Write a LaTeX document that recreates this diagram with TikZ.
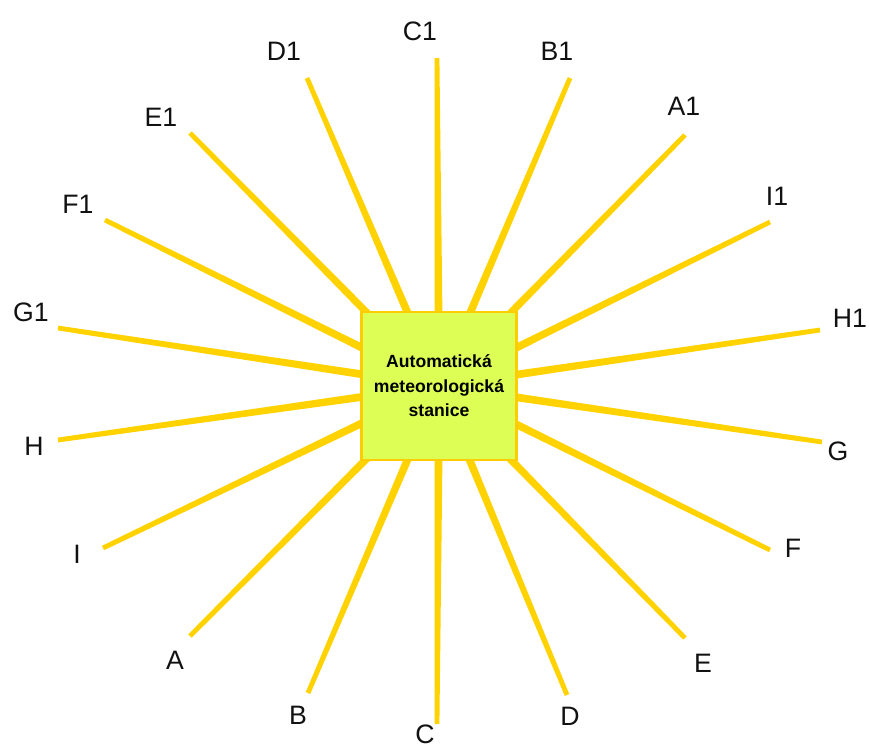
\documentclass[tikz,border=0pt]{standalone}
\usepackage{fontspec}
\setmainfont{Liberation Sans}
\usetikzlibrary{calc}
\definecolor{ray}{HTML}{FFD200}
\definecolor{boxfill}{HTML}{DDFF55}
\definecolor{boxline}{HTML}{FFCC00}
\definecolor{txt}{HTML}{111111}
\begin{document}
\begin{tikzpicture}[x=0.75pt,y=-0.75pt,
  lbl/.style={font=\fontsize{20}{20}\selectfont, text=txt, inner sep=0pt, anchor=center},
  centerbox/.style={draw=boxline, line width=2.2pt, fill=boxfill, minimum width=116pt, minimum height=111pt,
    inner sep=0pt, align=center, font=\bfseries\fontsize{13.2}{18.4}\selectfont, text=black},
  raystyle/.style={fill=ray}]
\useasboundingbox (0,0) rectangle (870,744);
% outer ends
\coordinate (c1) at (437,58);
\coordinate (b1) at (570,78);
\coordinate (d1) at (307,78);
\coordinate (a1) at (685,135);
\coordinate (e1) at (190,133);
\coordinate (i1) at (770,222);
\coordinate (f1) at (105,220);
\coordinate (h1) at (820,330);
\coordinate (g1) at (58,328);
\coordinate (g)  at (822,442);
\coordinate (h)  at (58,440);
\coordinate (f)  at (770,550);
\coordinate (i)  at (103,548);
\coordinate (e)  at (685,638);
\coordinate (a)  at (190,636);
\coordinate (d)  at (567,695);
\coordinate (b)  at (308,693);
\coordinate (c)  at (437,724);
\coordinate (ctr) at (439,386);
% rays
\foreach \o in {c1,b1,d1,a1,e1,i1,f1,h1,g1,g,h,f,i,e,a,d,b,c}{
  \fill[raystyle] ($(ctr)!3.2pt!90:(\o)$) -- ($(\o)!1.8pt!-90:(ctr)$) -- ($(\o)!1.8pt!90:(ctr)$) -- ($(ctr)!3.2pt!-90:(\o)$) -- cycle;
}
% center box
\node[centerbox] (box) at (439,386) {Automatická\\meteorologická\\stanice};
% labels
\node[lbl] (lc1) at (420,31) {C1};
\node[lbl] (lb1) at (557,51) {B1};
\node[lbl] (ld1) at (284,51) {D1};
\node[lbl] (la1) at (684,106) {A1};
\node[lbl] (le1) at (161,117) {E1};
\node[lbl] (li1) at (777,196) {I1};
\node[lbl] (lf1) at (78,204) {F1};
\node[lbl] (lh1) at (850,318) {H1};
\node[lbl] (lg1) at (31,312) {G1};
\node[lbl] (lg)  at (838,451) {G};
\node[lbl] (lh)  at (34,446) {H};
\node[lbl] (lf)  at (793,548) {F};
\node[lbl] (li)  at (77,554) {I};
\node[lbl] (le)  at (703,663) {E};
\node[lbl] (la)  at (175,660) {A};
\node[lbl] (ld)  at (570,716) {D};
\node[lbl] (lb)  at (298,715) {B};
\node[lbl] (lc)  at (425,734) {C};
\end{tikzpicture}
\end{document}
